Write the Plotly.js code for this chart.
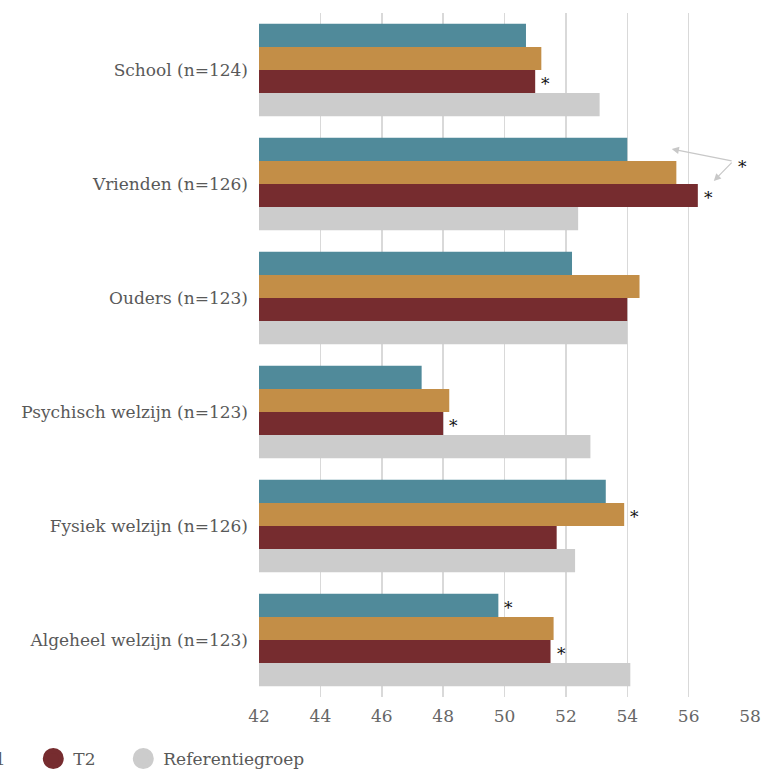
<!DOCTYPE html>
<html>
<head>
<meta charset="utf-8">
<script src="https://cdn.plot.ly/plotly-3.0.1.min.js"></script>
<style>html,body{margin:0;padding:0;background:#fff;}#chart{width:765px;height:770px;}</style>
</head>
<body>
<div id="chart"></div>
<script>
// Data
const categories = ["School (n=124)", "Vrienden (n=126)", "Ouders (n=123)", "Psychisch welzijn (n=123)", "Fysiek welzijn (n=126)", "Algeheel welzijn (n=123)"];
const seriesNames = ["T0", "T1", "T2", "Referentiegroep"];
const t0Values = [50.7, 54.0, 52.2, 47.3, 53.3, 49.8];
const t1Values = [51.2, 55.6, 54.4, 48.2, 53.9, 51.6];
const t2Values = [51.0, 56.3, 54.0, 48.0, 51.7, 51.5];
const refValues = [53.1, 52.4, 54.0, 52.8, 52.3, 54.1];
const xTicks = [42, 44, 46, 48, 50, 52, 54, 56, 58];
// significance markers: [categoryIndex, seriesIndex]
const significant = [[0, 2], [1, 2], [3, 2], [4, 1], [5, 0], [5, 2]];

const colors = ["#508a9a", "#c38e47", "#762c2f", "#cccccc"];
const allValues = [t0Values, t1Values, t2Values, refValues];
const font = "DejaVu Serif, serif";
const legendIds = ["legend", "legend2", "legend3", "legend4"];
const legendX = [-0.8263, -0.6430, -0.4597, -0.2764];

const traces = [];
allValues.forEach((vals, i) => {
  traces.push({
    type: "bar", orientation: "h", y: categories, x: vals,
    base: 0, name: seriesNames[i], marker: {color: colors[i]},
    showlegend: false, hoverinfo: "x+y"
  });
});
allValues.forEach((vals, i) => {
  traces.push({
    type: "scatter", mode: "markers", x: [null], y: [null],
    name: seriesNames[i], legend: legendIds[i],
    marker: {color: colors[i], size: 16, symbol: "circle", line: {color: colors[i], width: 5}},
    showlegend: true
  });
});

const barOffset = [-0.303, -0.1, 0.1, 0.303];
const annotations = significant.map(([c, s]) => ({
  x: allValues[s][c], y: c + barOffset[s] + 0.02, xref: "x", yref: "y",
  text: "*", showarrow: false, xanchor: "left", yanchor: "middle", xshift: 4,
  font: {family: font, size: 17, color: "#111"}
}));
// Vrienden extra star with arrows
annotations.push({
  x: 57.55, y: 0.853, xref: "x", yref: "y", text: "*", showarrow: false,
  xanchor: "left", yanchor: "middle", font: {family: font, size: 17, color: "#111"}
});
annotations.push({
  x: 55.45, y: 0.693, xref: "x", yref: "y", axref: "x", ayref: "y",
  ax: 57.45, ay: 0.8, text: "", showarrow: true, arrowhead: 2, arrowsize: 1.2,
  arrowwidth: 1.2, arrowcolor: "#c8c8c8"
});
annotations.push({
  x: 56.82, y: 0.974, xref: "x", yref: "y", axref: "x", ayref: "y",
  ax: 57.45, ay: 0.8, text: "", showarrow: true, arrowhead: 2, arrowsize: 1.2,
  arrowwidth: 1.2, arrowcolor: "#c8c8c8"
});

const layout = {
  width: 765, height: 770,
  margin: {l: 259, r: 15, t: 13, b: 73, autoexpand: false},
  paper_bgcolor: "#fff", plot_bgcolor: "#fff",
  barmode: "group", bargap: 0.19, bargroupgap: 0,
  font: {family: font, color: "#595959"},
  xaxis: {
    range: [42, 58], tickvals: xTicks, ticktext: xTicks.map(String),
    showgrid: true, gridcolor: "#d9d9d9", gridwidth: 1.5,
    zeroline: false, showline: false, ticks: "", ticklabelstandoff: 7,
    tickfont: {family: font, size: 17, color: "#666"}, fixedrange: true
  },
  yaxis: {
    type: "category", range: [5.5, -0.5], showgrid: false, zeroline: false,
    showline: false, ticks: "", ticklabelstandoff: 10,
    tickfont: {family: font, size: 17, color: "#595959"}, fixedrange: true
  },
  showlegend: true,
  annotations: annotations
};
legendIds.forEach((id, i) => {
  layout[id] = {
    orientation: "h", x: legendX[i], xanchor: "left", y: -0.0643, yanchor: "top",
    font: {family: font, size: 17, color: "#595959"}, itemsizing: "trace",
    bgcolor: "rgba(0,0,0,0)"
  };
});

Plotly.newPlot("chart", traces, layout, {displayModeBar: false, staticPlot: true});
</script>
</body>
</html>
